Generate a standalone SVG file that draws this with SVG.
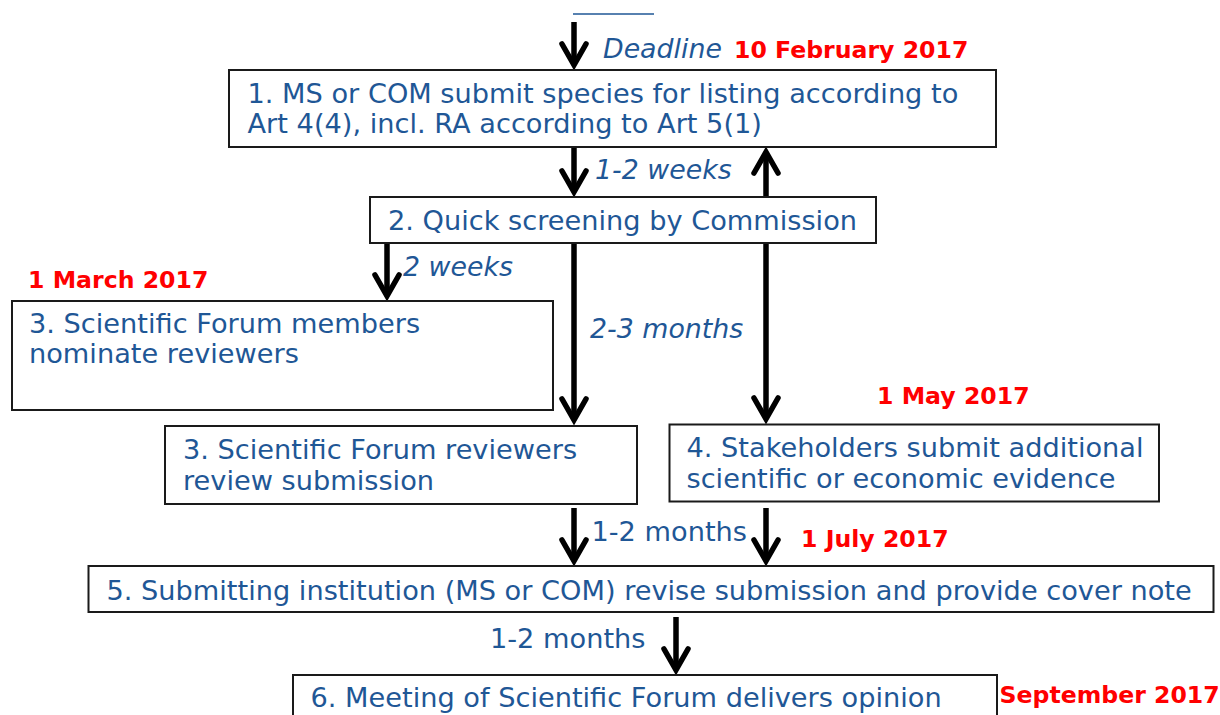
<svg xmlns="http://www.w3.org/2000/svg" width="1220" height="715" viewBox="0 0 1220 715">
<style>
.box{fill:#fff;stroke:#1a1a1a;stroke-width:2}
.t{font-family:"DejaVu Sans","Verdana",sans-serif;font-size:27.2px;fill:#1f5796}
.it{font-family:"DejaVu Sans","Verdana",sans-serif;font-size:26.8px;font-style:italic;fill:#1f5796}
.red{font-family:"DejaVu Sans","Verdana",sans-serif;font-size:23.6px;font-weight:bold;fill:#ff0000}
.arr{fill:none;stroke:#000;stroke-width:5.5;marker-end:url(#ah)}
</style>
<defs>
<marker id="ah" markerUnits="userSpaceOnUse" markerWidth="40" markerHeight="40" viewBox="-20 -20 40 40" refX="0" refY="0" orient="auto" overflow="visible">
<path d="M -18,-12 L 3,0 L -18,12" fill="none" stroke="#000" stroke-width="5.5" stroke-linejoin="miter" stroke-miterlimit="10" stroke-linecap="round"/>
</marker>
</defs>
<rect width="1220" height="715" fill="#fff"/>
<line x1="573" y1="14" x2="654" y2="14" stroke="#1f5796" stroke-width="1.5"/>
<g id="connectors">
<path class="arr" d="M574,22 V62"/>
<path class="arr" d="M574,147 V189"/>
<path class="arr" d="M766,197 V155"/>
<path class="arr" d="M387,243 V293"/>
<path class="arr" d="M574,244 V417"/>
<path class="arr" d="M766,244 V416"/>
<path class="arr" d="M574,508 V558"/>
<path class="arr" d="M766,508 V558"/>
<path class="arr" d="M676,617 V667"/>
</g>
<g id="labels">
<text class="it" x="603" y="58">Deadline</text>
<text class="red" x="734" y="58">10 February 2017</text>
<text class="it" x="595" y="179">1-2 weeks</text>
<text class="it" x="403" y="276">2 weeks</text>
<text class="red" x="28" y="288">1 March 2017</text>
<text class="it" x="590" y="338">2-3 months</text>
<text class="red" x="877" y="404">1 May 2017</text>
<text class="t" x="591.5" y="541">1-2 months</text>
<text class="red" x="801" y="547">1 July 2017</text>
<text class="t" x="490" y="648">1-2 months</text>
<text class="red" x="999.5" y="703">September 2017</text>
</g>
<g id="n1">
<rect class="box" x="229" y="70" width="767" height="77"/>
<text class="t" x="247.5" y="103">1. MS or COM submit species for listing according to</text>
<text class="t" x="247.5" y="133">Art 4(4), incl. RA according to Art 5(1)</text>
</g>
<g id="n2">
<rect class="box" x="370" y="197" width="506" height="46"/>
<text class="t" x="388" y="230">2. Quick screening by Commission</text>
</g>
<g id="n3a">
<rect class="box" x="12" y="301" width="541" height="109"/>
<text class="t" x="29" y="333">3. Scientific Forum members</text>
<text class="t" x="29" y="363">nominate reviewers</text>
</g>
<g id="n3b">
<rect class="box" x="165" y="426" width="472" height="78"/>
<text class="t" x="183" y="459">3. Scientific Forum reviewers</text>
<text class="t" x="183" y="490">review submission</text>
</g>
<g id="n4">
<rect class="box" x="669.5" y="424.5" width="489.5" height="77"/>
<text class="t" x="686.5" y="457">4. Stakeholders submit additional</text>
<text class="t" x="686.5" y="487.5">scientific or economic evidence</text>
</g>
<g id="n5">
<rect class="box" x="88.5" y="566" width="1125" height="46"/>
<text class="t" x="106.5" y="599.5">5. Submitting institution (MS or COM) revise submission and provide cover note</text>
</g>
<g id="n6">
<rect class="box" x="293" y="675" width="704" height="60"/>
<text class="t" x="310.5" y="706.5">6. Meeting of Scientific Forum delivers opinion</text>
</g>
</svg>
